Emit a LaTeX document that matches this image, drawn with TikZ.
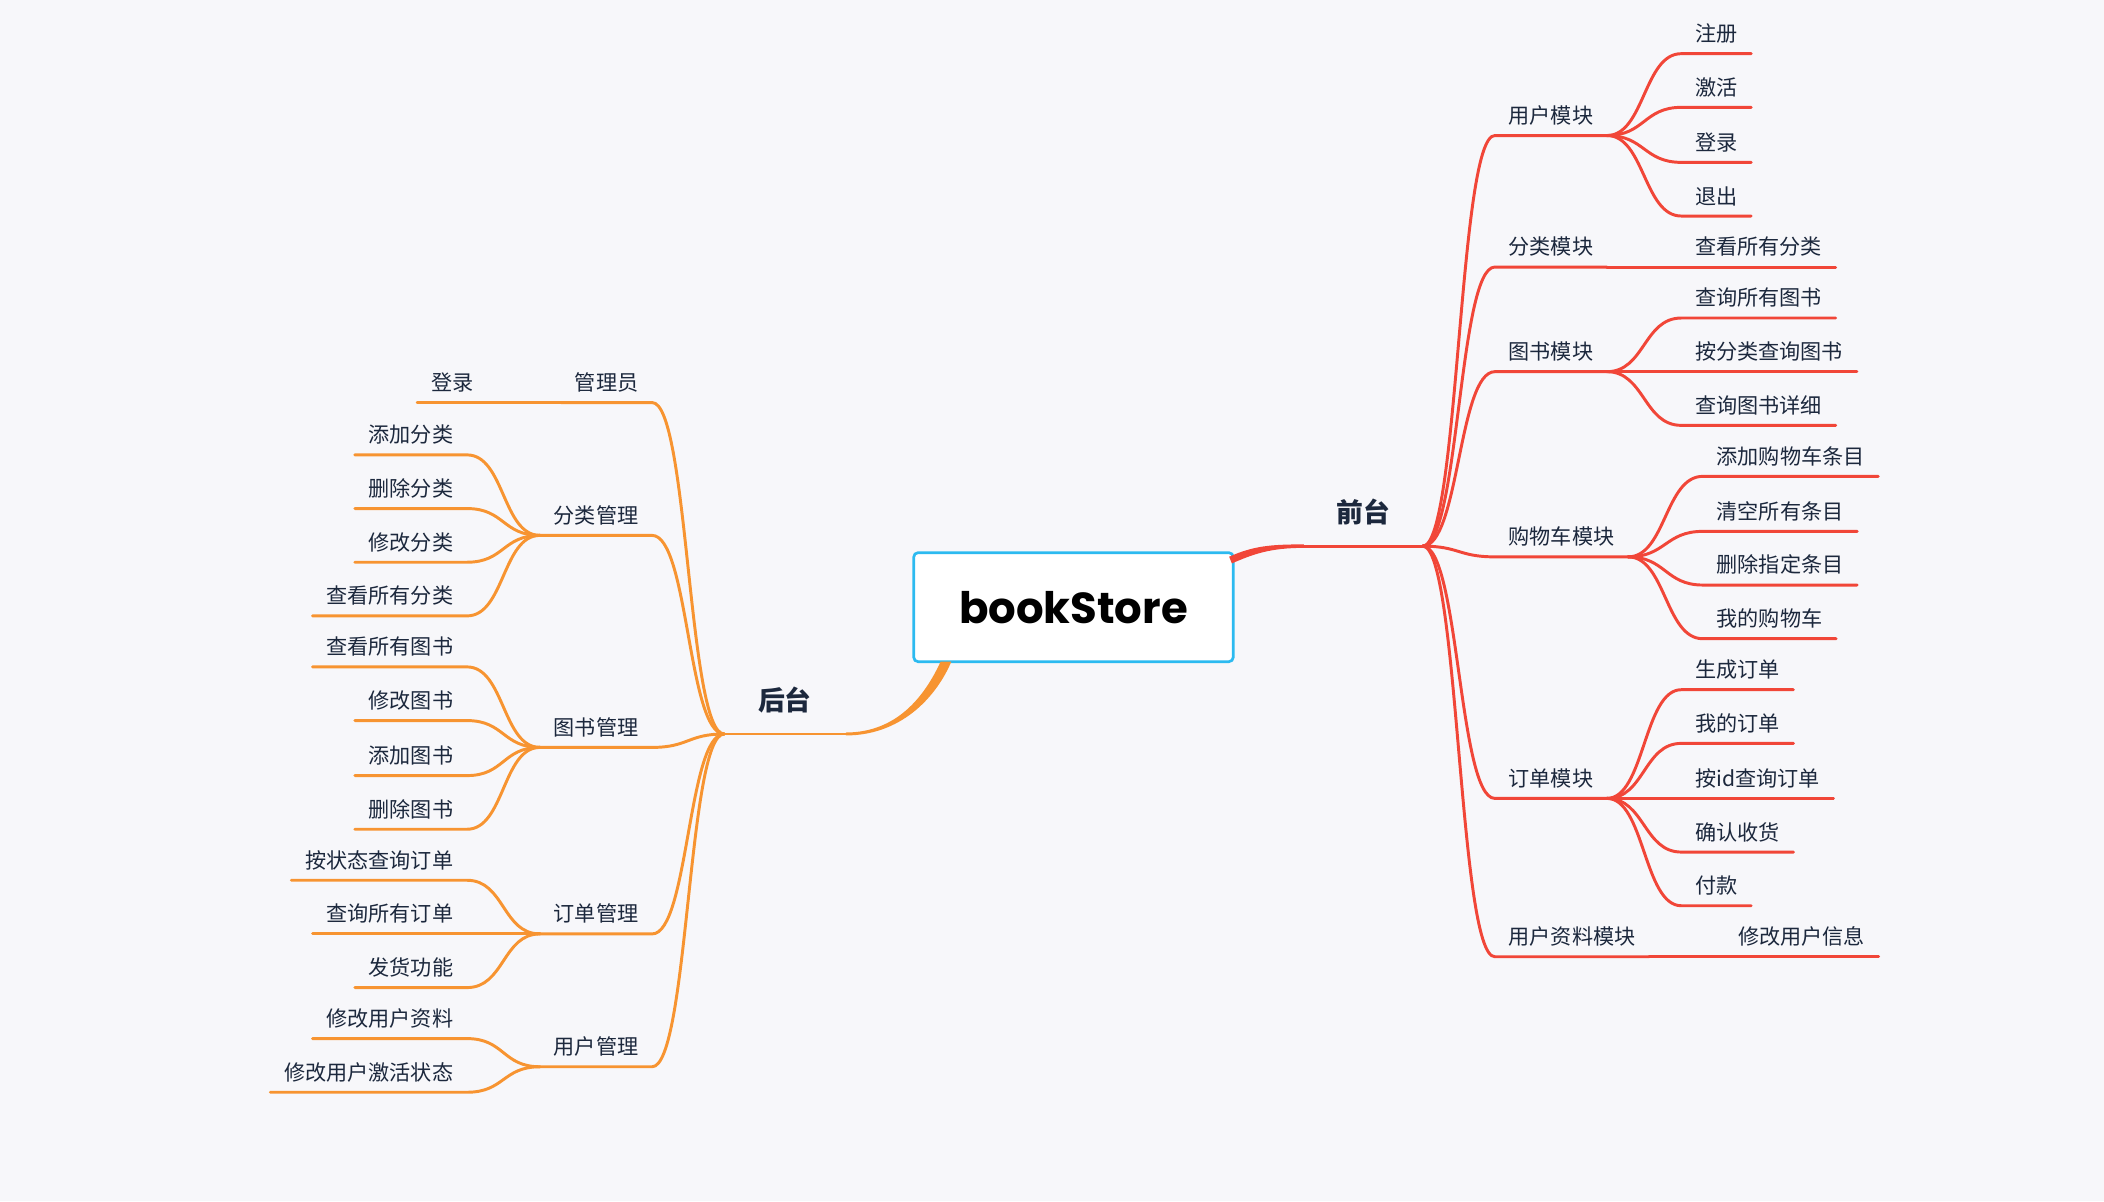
\documentclass[tikz,border=0pt]{standalone}
\usepackage{fontspec}
\setmainfont{Noto Sans CJK SC}
\newfontfamily\titlefont{Poppins}
\usetikzlibrary{calc,positioning}
\definecolor{mmred}{RGB}{241,70,56}
\definecolor{mmorange}{RGB}{247,148,49}
\definecolor{mmblue}{RGB}{44,186,240}
\definecolor{mmtext}{RGB}{28,40,61}
\definecolor{mmbg}{RGB}{247,247,250}

\begin{document}
\begin{tikzpicture}[x=0.025cm, y=-0.025cm,
        topic/.style={inner xsep=0.25cm, inner ysep=0.185cm, text=mmtext, font=\fontsize{11.2pt}{13pt}\selectfont},
        rtopic/.style={topic, anchor=south west},
        ltopic/.style={topic, anchor=south east},
        sidetopic/.style={inner ysep=0.38cm, anchor=south, text=mmtext, font=\fontsize{14.2pt}{16pt}\selectfont\bfseries},
        rline/.style={draw=mmred, line width=0.055cm, line cap=round},
        oline/.style={draw=mmorange, line width=0.055cm, line cap=round}]
        \fill[mmbg] (0,0) rectangle (1568,895.1);

        \node (root) at (800,452.5) [draw=mmblue, fill=white, line width=0.05cm, rounded corners=0.08cm, minimum width=5.95cm, minimum height=2.03cm, font=\titlefont\fontsize{23pt}{27pt}\selectfont\bfseries] {bookStore};
        \node (front) at (1016,407) [sidetopic, minimum width=2.2cm] {前台};
        \node (back) at (585,547) [sidetopic, minimum width=2.25cm] {后台};

        \fill[mmred] ($(root.north east)+(-4,4)$) .. controls +(18,-8) and +(-25,0) .. ($(front.south west)+(0,-1.3)$) -- ($(front.south west)+(0,1.3)$) .. controls +(-25,0) and +(16,-7) .. ($(root.north east)+(-2,9)$) -- cycle;
        \fill[mmorange] ($(root.south west)+(21,-1)$) .. controls +(-12,26) and +(38,0) .. ($(back.south east)+(0,-1.1)$) -- ($(back.south east)+(0,1.1)$) .. controls +(40,0) and +(-12,28) .. ($(root.south west)+(29,-1)$) -- cycle;
        \draw[rline] (front.south west) -- (front.south east);
        \draw[oline] (back.south east) -- (back.south west);

        \node (user) at (1114,101) [rtopic] {用户模块};
        \node (catm) at (1114,199) [rtopic] {分类模块};
        \node (bookm) at (1114,277) [rtopic] {图书模块};
        \node (cart) at (1114,415) [rtopic] {购物车模块};
        \node (order) at (1114,595) [rtopic] {订单模块};
        \node (profile) at (1114,713) [rtopic] {用户资料模块};

        \node (reg) at (1253,40) [rtopic] {注册};
        \node (act) at (1253,80) [rtopic] {激活};
        \node (login) at (1253,121) [rtopic] {登录};
        \node (logout) at (1253,161) [rtopic] {退出};
        \node (allcat) at (1253,199) [rtopic] {查看所有分类};
        \node (allbook) at (1253,237) [rtopic] {查询所有图书};
        \node (bycat) at (1253,277) [rtopic] {按分类查询图书};
        \node (detail) at (1253,317) [rtopic] {查询图书详细};
        \node (additem) at (1269,355) [rtopic] {添加购物车条目};
        \node (clear) at (1269,396) [rtopic] {清空所有条目};
        \node (delitem) at (1269,436) [rtopic] {删除指定条目};
        \node (mycart) at (1269,476) [rtopic] {我的购物车};
        \node (neworder) at (1253,514) [rtopic] {生成订单};
        \node (myorder) at (1253,554) [rtopic] {我的订单};
        \node (byid) at (1253,595) [rtopic] {按id查询订单};
        \node (confirm) at (1253,635) [rtopic] {确认收货};
        \node (pay) at (1253,675) [rtopic] {付款};
        \node (edituser) at (1285,713) [rtopic] {修改用户信息};

        \draw[rline] (front.south east) .. controls +(27,0) and +(-27,0) .. (user.south west) -- (user.south east);
        \draw[rline] (front.south east) .. controls +(27,0) and +(-27,0) .. (catm.south west) -- (catm.south east);
        \draw[rline] (front.south east) .. controls +(27,0) and +(-27,0) .. (bookm.south west) -- (bookm.south east);
        \draw[rline] (front.south east) .. controls +(27,0) and +(-27,0) .. (cart.south west) -- (cart.south east);
        \draw[rline] (front.south east) .. controls +(27,0) and +(-27,0) .. (order.south west) -- (order.south east);
        \draw[rline] (front.south east) .. controls +(27,0) and +(-27,0) .. (profile.south west) -- (profile.south east);

        \draw[rline] (user.south east) .. controls +(28,0) and +(-28,0) .. (reg.south west) -- (reg.south east);
        \draw[rline] (user.south east) .. controls +(28,0) and +(-28,0) .. (act.south west) -- (act.south east);
        \draw[rline] (user.south east) .. controls +(28,0) and +(-28,0) .. (login.south west) -- (login.south east);
        \draw[rline] (user.south east) .. controls +(28,0) and +(-28,0) .. (logout.south west) -- (logout.south east);
        \draw[rline] (catm.south east) -- (allcat.south west) -- (allcat.south east);
        \draw[rline] (bookm.south east) .. controls +(28,0) and +(-28,0) .. (allbook.south west) -- (allbook.south east);
        \draw[rline] (bookm.south east) -- (bycat.south west) -- (bycat.south east);
        \draw[rline] (bookm.south east) .. controls +(28,0) and +(-28,0) .. (detail.south west) -- (detail.south east);
        \draw[rline] (cart.south east) .. controls +(28,0) and +(-28,0) .. (additem.south west) -- (additem.south east);
        \draw[rline] (cart.south east) .. controls +(28,0) and +(-28,0) .. (clear.south west) -- (clear.south east);
        \draw[rline] (cart.south east) .. controls +(28,0) and +(-28,0) .. (delitem.south west) -- (delitem.south east);
        \draw[rline] (cart.south east) .. controls +(28,0) and +(-28,0) .. (mycart.south west) -- (mycart.south east);
        \draw[rline] (order.south east) .. controls +(28,0) and +(-28,0) .. (neworder.south west) -- (neworder.south east);
        \draw[rline] (order.south east) .. controls +(28,0) and +(-28,0) .. (myorder.south west) -- (myorder.south east);
        \draw[rline] (order.south east) -- (byid.south west) -- (byid.south east);
        \draw[rline] (order.south east) .. controls +(28,0) and +(-28,0) .. (confirm.south west) -- (confirm.south east);
        \draw[rline] (order.south east) .. controls +(28,0) and +(-28,0) .. (pay.south west) -- (pay.south east);
        \draw[rline] (profile.south east) -- (edituser.south west) -- (edituser.south east);

        \node (admin) at (486,300) [ltopic] {管理员};
        \node (catmgr) at (486,399) [ltopic] {分类管理};
        \node (bookmgr) at (486,557) [ltopic] {图书管理};
        \node (ordermgr) at (486,696) [ltopic] {订单管理};
        \node (usermgr) at (486,795) [ltopic] {用户管理};

        \node (alogin) at (363,300) [ltopic] {登录};
        \node (addcat) at (348,339) [ltopic] {添加分类};
        \node (delcat) at (348,379) [ltopic] {删除分类};
        \node (editcat) at (348,419) [ltopic] {修改分类};
        \node (viewcat) at (348,459) [ltopic] {查看所有分类};
        \node (viewbook) at (348,497) [ltopic] {查看所有图书};
        \node (editbook) at (348,537) [ltopic] {修改图书};
        \node (addbook) at (348,578) [ltopic] {添加图书};
        \node (delbook) at (348,618) [ltopic] {删除图书};
        \node (bystate) at (348,656) [ltopic] {按状态查询订单};
        \node (allorder) at (348,696) [ltopic] {查询所有订单};
        \node (ship) at (348,736) [ltopic] {发货功能};
        \node (editinfo) at (348,774) [ltopic] {修改用户资料};
        \node (activate) at (348,814) [ltopic] {修改用户激活状态};

        \draw[oline] (back.south west) .. controls +(-27,0) and +(27,0) .. (admin.south east) -- (admin.south west);
        \draw[oline] (back.south west) .. controls +(-27,0) and +(27,0) .. (catmgr.south east) -- (catmgr.south west);
        \draw[oline] (back.south west) .. controls +(-27,0) and +(27,0) .. (bookmgr.south east) -- (bookmgr.south west);
        \draw[oline] (back.south west) .. controls +(-27,0) and +(27,0) .. (ordermgr.south east) -- (ordermgr.south west);
        \draw[oline] (back.south west) .. controls +(-27,0) and +(27,0) .. (usermgr.south east) -- (usermgr.south west);

        \draw[oline] (admin.south west) -- (alogin.south east) -- (alogin.south west);
        \draw[oline] (catmgr.south west) .. controls +(-28,0) and +(28,0) .. (addcat.south east) -- (addcat.south west);
        \draw[oline] (catmgr.south west) .. controls +(-28,0) and +(28,0) .. (delcat.south east) -- (delcat.south west);
        \draw[oline] (catmgr.south west) .. controls +(-28,0) and +(28,0) .. (editcat.south east) -- (editcat.south west);
        \draw[oline] (catmgr.south west) .. controls +(-28,0) and +(28,0) .. (viewcat.south east) -- (viewcat.south west);
        \draw[oline] (bookmgr.south west) .. controls +(-28,0) and +(28,0) .. (viewbook.south east) -- (viewbook.south west);
        \draw[oline] (bookmgr.south west) .. controls +(-28,0) and +(28,0) .. (editbook.south east) -- (editbook.south west);
        \draw[oline] (bookmgr.south west) .. controls +(-28,0) and +(28,0) .. (addbook.south east) -- (addbook.south west);
        \draw[oline] (bookmgr.south west) .. controls +(-28,0) and +(28,0) .. (delbook.south east) -- (delbook.south west);
        \draw[oline] (ordermgr.south west) .. controls +(-28,0) and +(28,0) .. (bystate.south east) -- (bystate.south west);
        \draw[oline] (ordermgr.south west) -- (allorder.south east) -- (allorder.south west);
        \draw[oline] (ordermgr.south west) .. controls +(-28,0) and +(28,0) .. (ship.south east) -- (ship.south west);
        \draw[oline] (usermgr.south west) .. controls +(-28,0) and +(28,0) .. (editinfo.south east) -- (editinfo.south west);
        \draw[oline] (usermgr.south west) .. controls +(-28,0) and +(28,0) .. (activate.south east) -- (activate.south west);
    \end{tikzpicture}
\end{document}
